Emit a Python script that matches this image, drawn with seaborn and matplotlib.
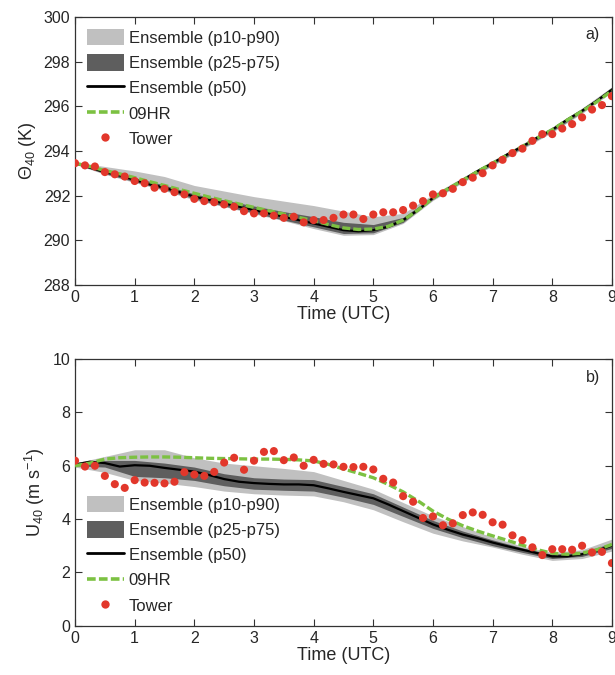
import numpy as np
import pandas as pd
import matplotlib
matplotlib.use("Agg")
import matplotlib.pyplot as plt
from matplotlib.patches import Patch
from matplotlib.lines import Line2D
import seaborn as sns

# ---------------- data ----------------
# model lines every 15 min
t_line = [0, 0.25, 0.5, 0.75, 1.0, 1.25, 1.5, 1.75, 2.0, 2.25, 2.5, 2.75, 3.0,
          3.25, 3.5, 3.75, 4.0, 4.25, 4.5, 4.75, 5.0, 5.25, 5.5, 5.75, 6.0,
          6.25, 6.5, 6.75, 7.0, 7.25, 7.5, 7.75, 8.0, 8.25, 8.5, 8.75, 9.0]
# ensemble bands every 30 min
t_band = [0, 0.5, 1.0, 1.5, 2.0, 2.5, 3.0, 3.5, 4.0, 4.5, 5.0, 5.5, 6.0,
          6.5, 7.0, 7.5, 8.0, 8.5, 9.0]
# tower every 10 min
t_tower = [0, 0.167, 0.333, 0.5, 0.667, 0.833, 1.0, 1.167, 1.333, 1.5, 1.667,
           1.833, 2.0, 2.167, 2.333, 2.5, 2.667, 2.833, 3.0, 3.167, 3.333, 3.5,
           3.667, 3.833, 4.0, 4.167, 4.333, 4.5, 4.667, 4.833, 5.0, 5.167,
           5.333, 5.5, 5.667, 5.833, 6.0, 6.167, 6.333, 6.5, 6.667, 6.833, 7.0,
           7.167, 7.333, 7.5, 7.667, 7.833, 8.0, 8.167, 8.333, 8.5, 8.667,
           8.833, 9.0]

# Panel a: potential temperature (K)
th_p50 = [293.45, 293.25, 293.05, 292.9, 292.7, 292.5, 292.35, 292.15, 291.95,
          291.8, 291.65, 291.5, 291.35, 291.2, 291.05, 290.9, 290.75, 290.6,
          290.45, 290.4, 290.45, 290.6, 290.9, 291.35, 291.9, 292.3, 292.7,
          293.1, 293.45, 293.85, 294.2, 294.6, 294.95, 295.4, 295.8, 296.25,
          296.75]
th_09hr = [293.45, 293.3, 293.12, 292.97, 292.8, 292.62, 292.45, 292.27, 292.1,
           291.93, 291.77, 291.62, 291.47, 291.32, 291.17, 291.02, 290.87,
           290.7, 290.55, 290.48, 290.5, 290.62, 290.9, 291.35, 291.88, 292.3,
           292.68, 293.08, 293.45, 293.82, 294.2, 294.58, 294.95, 295.38,
           295.78, 296.2, 296.7]
th_p10 = [293.4, 292.95, 292.58, 292.22, 291.8, 291.5, 291.18, 290.87, 290.52,
          290.22, 290.25, 290.75, 291.78, 292.58, 293.33, 294.08, 294.83,
          295.68, 296.63]
th_p90 = [293.5, 293.3, 293.1, 292.85, 292.45, 292.2, 291.95, 291.75, 291.55,
          291.3, 291.05, 291.2, 292.05, 292.82, 293.57, 294.32, 295.07,
          295.92, 296.87]
th_p25 = [293.42, 292.98, 292.62, 292.26, 291.85, 291.53, 291.22, 290.9, 290.6,
          290.3, 290.33, 290.8, 291.83, 292.63, 293.38, 294.13, 294.88,
          295.73, 296.68]
th_p75 = [293.48, 293.12, 292.8, 292.47, 292.07, 291.8, 291.53, 291.28, 291.05,
          290.8, 290.7, 291.02, 291.97, 292.77, 293.52, 294.27, 295.02,
          295.87, 296.82]
th_tower = [293.45, 293.35, 293.3, 293.05, 292.95, 292.85, 292.65, 292.55,
            292.35, 292.3, 292.15, 292.05, 291.85, 291.75, 291.7, 291.6, 291.5,
            291.3, 291.2, 291.2, 291.1, 291.0, 291.05, 290.8, 290.9, 290.9,
            291.0, 291.15, 291.15, 290.95, 291.15, 291.25, 291.25, 291.35,
            291.55, 291.75, 292.05, 292.1, 292.3, 292.6, 292.8, 293.0, 293.35,
            293.6, 293.9, 294.1, 294.45, 294.75, 294.75, 295.0, 295.2, 295.5,
            295.85, 296.05, 296.45]

# Panel b: wind speed (m/s)
u_p50 = [6.05, 6.15, 6.1, 5.97, 6.02, 6.0, 5.92, 5.85, 5.78, 5.65, 5.5, 5.4,
         5.35, 5.32, 5.3, 5.3, 5.27, 5.15, 5.02, 4.9, 4.78, 4.55, 4.3, 4.05,
         3.8, 3.6, 3.42, 3.28, 3.12, 2.98, 2.85, 2.72, 2.6, 2.6, 2.68, 2.82,
         3.0]
u_09hr = [6.0, 6.1, 6.25, 6.3, 6.32, 6.33, 6.33, 6.32, 6.3, 6.28, 6.27, 6.26,
          6.25, 6.25, 6.24, 6.22, 6.18, 6.05, 5.88, 5.72, 5.55, 5.3, 5.02,
          4.68, 4.3, 4.0, 3.75, 3.55, 3.37, 3.2, 3.02, 2.85, 2.72, 2.68, 2.72,
          2.85, 3.05]
u_p10 = [5.95, 5.75, 5.45, 5.35, 5.22, 5.05, 4.95, 4.9, 4.87, 4.65, 4.35, 3.9,
         3.47, 3.18, 2.95, 2.68, 2.45, 2.52, 2.8]
u_p90 = [6.1, 6.35, 6.6, 6.6, 6.3, 6.1, 6.0, 5.9, 5.78, 5.45, 5.12, 4.62, 4.12,
         3.72, 3.32, 2.98, 2.75, 2.85, 3.25]
u_p25 = [6.0, 5.95, 5.6, 5.55, 5.45, 5.25, 5.12, 5.08, 5.05, 4.82, 4.55, 4.1,
         3.65, 3.3, 3.0, 2.75, 2.52, 2.6, 2.9]
u_p75 = [6.08, 6.2, 6.2, 6.1, 5.95, 5.7, 5.55, 5.5, 5.48, 5.22, 4.95, 4.45,
         3.95, 3.55, 3.22, 2.92, 2.68, 2.76, 3.1]
u_tower = [6.19, 5.97, 6.0, 5.62, 5.31, 5.17, 5.46, 5.37, 5.36, 5.34, 5.4,
           5.76, 5.67, 5.62, 5.77, 6.12, 6.3, 5.85, 6.19, 6.52, 6.55, 6.21,
           6.31, 6.0, 6.22, 6.07, 6.05, 5.96, 5.95, 5.96, 5.86, 5.51, 5.37,
           4.86, 4.65, 4.04, 4.1, 3.77, 3.84, 4.15, 4.25, 4.16, 3.88, 3.79,
           3.39, 3.21, 2.94, 2.65, 2.87, 2.87, 2.85, 3.0, 2.75, 2.77, 2.35]

legend_labels = ["Ensemble (p10-p90)", "Ensemble (p25-p75)", "Ensemble (p50)",
                 "09HR", "Tower"]

# ---------------- style ----------------
sns.set_style("ticks")
plt.rcParams["font.family"] = ["Liberation Sans", "DejaVu Sans"]
plt.rcParams["mathtext.default"] = "regular"
plt.rcParams["xtick.direction"] = "in"
plt.rcParams["ytick.direction"] = "in"

LIGHT = "#c0c0c0"
DARK = "#5e5e5e"
GREEN = "#7cc142"
RED = "#e2372b"
DASH = (0, (2.4, 0.9))

fig = plt.figure(figsize=(6.15, 6.75), dpi=100)
ax1 = fig.add_axes([0.122, 0.578, 0.873, 0.397])
ax2 = fig.add_axes([0.122, 0.073, 0.873, 0.395])


def draw(ax, p10, p90, p25, p75, p50, hr, tower):
    ax.fill_between(t_band, p10, p90, color=LIGHT, lw=0, zorder=1)
    ax.fill_between(t_band, p25, p75, color=DARK, lw=0, zorder=2)
    sns.lineplot(x=t_line, y=p50, ax=ax, color="black", lw=1.6, zorder=3)
    sns.lineplot(x=t_line, y=hr, ax=ax, color=GREEN, lw=2.4, linestyle=DASH,
                 zorder=4)
    sns.scatterplot(x=t_tower, y=tower, ax=ax, color=RED, s=34,
                    edgecolor="none", zorder=5)


def style(ax, ylim, yticks, ylabel):
    ax.set_xlim(0, 9)
    ax.set_ylim(*ylim)
    ax.set_xticks(range(10))
    ax.set_yticks(yticks)
    ax.tick_params(axis="both", which="both", top=True, right=True,
                   labelsize=11.5, length=5, width=0.8, color="#333333")
    for sp in ax.spines.values():
        sp.set_linewidth(0.9)
        sp.set_color("#333333")
    ax.set_xlabel("Time (UTC)", fontsize=13, labelpad=1)
    ax.set_ylabel(ylabel, fontsize=13, labelpad=4)


def make_legend(ax, loc, anchor):
    handles = [
        Patch(facecolor=LIGHT, edgecolor="none"),
        Patch(facecolor=DARK, edgecolor="none"),
        Line2D([], [], color="black", lw=2.0),
        Line2D([], [], color=GREEN, lw=2.6, linestyle=DASH),
        Line2D([], [], color=RED, lw=0, marker="o", markersize=6,
               markeredgewidth=0),
    ]
    ax.legend(handles, legend_labels, loc=loc, bbox_to_anchor=anchor,
              frameon=False, fontsize=12, handlelength=2.2, handleheight=1.15,
              handletextpad=0.3, labelspacing=0.5, borderaxespad=0,
              borderpad=0.72, numpoints=1)


draw(ax1, th_p10, th_p90, th_p25, th_p75, th_p50, th_09hr, th_tower)
style(ax1, (288, 300), range(288, 301, 2), r"$\Theta_{40}$ (K)")
make_legend(ax1, "upper left", (0.0, 1.0))
ax1.text(0.978, 0.935, "a)", transform=ax1.transAxes, ha="right",
         va="center", fontsize=11.5)

draw(ax2, u_p10, u_p90, u_p25, u_p75, u_p50, u_09hr, u_tower)
style(ax2, (0, 10), range(0, 11, 2), r"$U_{40}$ (m s$^{-1}$)")
make_legend(ax2, "lower left", (0.0, 0.0))
ax2.text(0.978, 0.93, "b)", transform=ax2.transAxes, ha="right",
         va="center", fontsize=11.5)

fig.savefig("out.png", dpi=100)
